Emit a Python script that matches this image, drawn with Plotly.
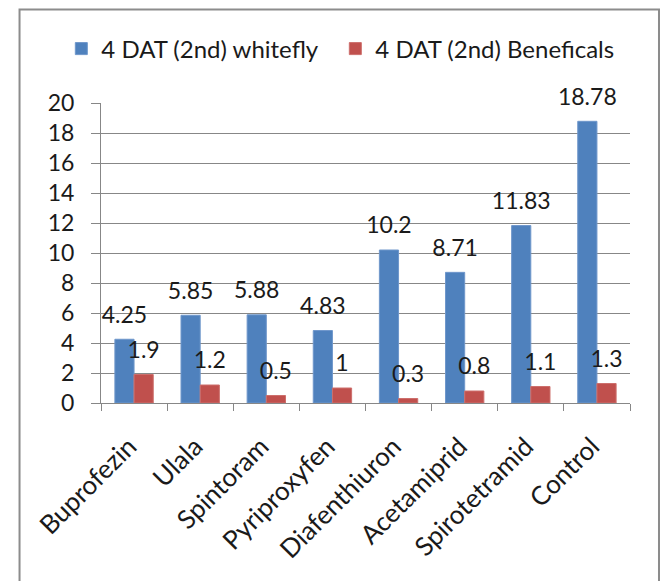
import plotly.graph_objects as go

categories = ["Buprofezin", "Ulala", "Spintoram", "Pyriproxyfen", "Diafenthiuron",
              "Acetamiprid", "Spirotetramid", "Control"]
whitefly = [4.25, 5.85, 5.88, 4.83, 10.2, 8.71, 11.83, 18.78]
beneficals = [1.9, 1.2, 0.5, 1, 0.3, 0.8, 1.1, 1.3]
series_names = ["4 DAT (2nd) whitefly", "4 DAT (2nd) Beneficals"]
y_ticks = [0, 2, 4, 6, 8, 10, 12, 14, 16, 18, 20]

FONT = "Lato"
TXT = "#1a1a1a"
GRID = "#878787"
BLUE = "#4F81BD"
RED = "#C0504D"

fig = go.Figure()
fig.add_bar(x=categories, y=whitefly, name=series_names[0], offsetgroup="a", legendwidth=229,
            marker=dict(color=BLUE, line=dict(color="#6f97cb", width=1)), hoverinfo="x+y")
fig.add_bar(x=categories, y=beneficals, name=series_names[1], offsetgroup="b", legendwidth=250,
            marker=dict(color=RED, line=dict(color="#cd6f6c", width=1)), hoverinfo="x+y")

for vals, grp in ((whitefly, "a"), (beneficals, "b")):
    fig.add_scatter(x=categories, y=vals, mode="markers+text", offsetgroup=grp,
                    text=[f"{v:g}" for v in vals], textposition="top center",
                    textfont=dict(family=FONT, size=23, color=TXT),
                    marker=dict(size=16, color="rgba(0,0,0,0)"),
                    showlegend=False, hoverinfo="skip", cliponaxis=False)

fig.update_layout(
    width=666, height=581,
    margin=dict(l=101, r=36, t=103, b=178, autoexpand=False),
    paper_bgcolor="white", plot_bgcolor="white",
    barmode="group", bargap=0.42, bargroupgap=0,
    scattermode="group", scattergap=0.42,
    font=dict(family=FONT, size=23, color=TXT),
    legend=dict(orientation="h", x=-0.075, xanchor="left", y=1.18, yanchor="middle",
                font=dict(family=FONT, size=24, color=TXT),
                bgcolor="rgba(0,0,0,0)"),
    showlegend=True,
    xaxis=dict(type="category", showline=True, linecolor=GRID, linewidth=1,
               ticks="outside", tickson="boundaries", ticklen=7, tickcolor=GRID,
               tickangle=-45, tickfont=dict(family=FONT, size=26, color=TXT),
               ticklabelstandoff=17, ticklabelshift=-5, showgrid=False),
    yaxis=dict(range=[0, 20], tickvals=y_ticks, showline=True, linecolor=GRID, linewidth=1,
               ticks="outside", ticklen=9, tickcolor=GRID, showgrid=True, gridcolor=GRID,
               gridwidth=1, zeroline=False, tickfont=dict(family=FONT, size=23, color=TXT),
               ticklabelstandoff=12),
    shapes=[dict(type="rect", xref="paper", yref="paper",
                 x0=-0.154, x1=1.0548, y0=-0.66, y1=1.3117,
                 line=dict(color="#8c8c8c", width=2), fillcolor="rgba(0,0,0,0)")],
)

fig.write_html("out.html", config={"displayModeBar": False},
               post_script="document.body.style.margin='0';document.body.style.overflow='hidden';")
